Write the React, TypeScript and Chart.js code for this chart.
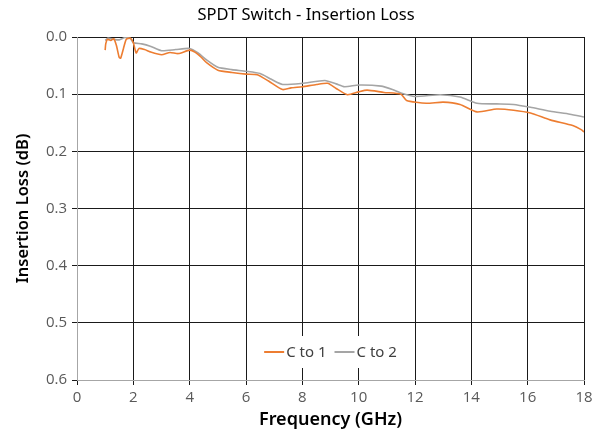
import React, { useEffect, useRef } from "react";
import { Chart, registerables } from "chart.js";

Chart.register(...registerables);

const chartTitle = "SPDT Switch - Insertion Loss";
const xTitle = "Frequency (GHz)";
const yTitle = "Insertion Loss (dB)";
const seriesNames = ["C to 1", "C to 2"];
const seriesColors = ["#ED7D31", "#A5A5A5"];

const freqC1 = [1.0, 1.02, 1.08, 1.2, 1.3, 1.4, 1.5, 1.55, 1.65, 1.75, 1.9, 2.0, 2.1, 2.2, 2.4, 2.6, 3.0, 3.3, 3.6, 4.0, 4.2, 4.4, 4.6, 5.0, 5.5, 6.0, 6.4, 6.8, 7.3, 7.6, 8.0, 8.5, 8.9, 9.2, 9.6, 10.0, 10.3, 10.9, 11.5, 11.7, 12.4, 13.0, 13.6, 14.2, 14.9, 15.5, 16.1, 16.8, 17.6, 17.9, 18.0];
const lossC1 = [0.023, 0.012, 0.004, 0.006, 0.003, 0.015, 0.036, 0.037, 0.02, 0.004, 0.002, 0.01, 0.028, 0.02, 0.022, 0.026, 0.031, 0.027, 0.029, 0.023, 0.027, 0.035, 0.045, 0.058, 0.062, 0.065, 0.066, 0.077, 0.092, 0.089, 0.087, 0.083, 0.081, 0.09, 0.101, 0.096, 0.093, 0.097, 0.1, 0.111, 0.116, 0.114, 0.118, 0.131, 0.126, 0.128, 0.133, 0.145, 0.155, 0.162, 0.166];

const freqC2 = [1.0, 1.1, 1.3, 1.5, 1.7, 1.9, 2.0, 2.3, 2.6, 3.0, 3.5, 4.0, 4.3, 4.6, 5.0, 5.5, 6.0, 6.5, 6.9, 7.3, 8.0, 8.8, 9.2, 9.5, 10.0, 10.8, 11.2, 11.5, 12.0, 12.9, 13.6, 14.2, 14.9, 15.5, 16.1, 16.8, 17.5, 18.0];
const lossC2 = [0.006, 0.002, 0.004, 0.005, 0.001, 0.003, 0.01, 0.012, 0.016, 0.024, 0.022, 0.02, 0.028, 0.04, 0.053, 0.057, 0.06, 0.064, 0.074, 0.083, 0.081, 0.076, 0.082, 0.087, 0.084, 0.086, 0.092, 0.098, 0.104, 0.101, 0.105, 0.116, 0.117, 0.118, 0.123, 0.13, 0.135, 0.14];

const TITLE_FONT = "'Noto Sans', 'Open Sans', sans-serif";
const TICK_FONT = "'Open Sans', 'Noto Sans', sans-serif";

const titlePlugin = {
  id: "centerTitle",
  afterDraw(chart: any) {
    const ctx = chart.ctx;
    ctx.save();
    ctx.font = `16.5px ${TITLE_FONT}`;
    ctx.fillStyle = "#000000";
    ctx.textAlign = "center";
    ctx.textBaseline = "middle";
    ctx.fillText(chartTitle, chart.width / 2, 15);
    ctx.restore();
  },
};

const legendPlugin = {
  id: "innerLegend",
  afterDraw(chart: any) {
    const ctx = chart.ctx;
    const area = chart.chartArea;
    const cx = (area.left + area.right) / 2;
    const cy = area.bottom - 28;
    ctx.save();
    ctx.font = `15px ${TITLE_FONT}`;
    const lineW = 20;
    const gap = 2;
    const itemGap = 8;
    const widths = seriesNames.map((n) => lineW + gap + ctx.measureText(n).width);
    const total = widths.reduce((a, b) => a + b, 0) + itemGap * (seriesNames.length - 1);
    const padX = 12;
    ctx.fillStyle = "#ffffff";
    ctx.fillRect(cx - total / 2 - padX, cy - 16, total + padX * 2, 32);
    let x = cx - total / 2;
    seriesNames.forEach((n, i) => {
      ctx.strokeStyle = seriesColors[i];
      ctx.lineWidth = 2;
      ctx.beginPath();
      ctx.moveTo(x, cy);
      ctx.lineTo(x + lineW, cy);
      ctx.stroke();
      ctx.fillStyle = "#404040";
      ctx.textBaseline = "middle";
      ctx.textAlign = "left";
      ctx.fillText(n, x + lineW + gap, cy + 1);
      x += widths[i] + itemGap;
    });
    ctx.restore();
  },
};

export default function App() {
  const ref = useRef<HTMLCanvasElement>(null);
  useEffect(() => {
    document.body.style.margin = "0";
    const c1 = freqC1.map((f, i) => ({ x: f, y: lossC1[i] }));
    const c2 = freqC2.map((f, i) => ({ x: f, y: lossC2[i] }));
    const chart = new Chart(ref.current!, {
      type: "line",
      data: {
        datasets: [
          { label: seriesNames[0], data: c1, borderColor: seriesColors[0], backgroundColor: seriesColors[0], borderWidth: 1.6, pointRadius: 0, tension: 0.2, order: 1 },
          { label: seriesNames[1], data: c2, borderColor: seriesColors[1], backgroundColor: seriesColors[1], borderWidth: 1.6, pointRadius: 0, tension: 0.2, order: 2 },
        ],
      },
      options: {
        animation: false,
        responsive: false,
        layout: { padding: { left: 0, right: 28, top: 37, bottom: 0 } },
        plugins: {
          legend: { display: false },
          tooltip: { enabled: false },
          title: { display: false },
        },
        scales: {
          x: {
            type: "linear",
            min: 0,
            max: 18,
            ticks: { stepSize: 2, color: "#595959", font: { family: TICK_FONT, size: 15 }, padding: 4, maxRotation: 0 },
            grid: { color: "#1a1a1a", lineWidth: 1, tickLength: 5, drawTicks: true },
            border: { color: "#A6A6A6", width: 1 },
            title: { display: true, text: xTitle, color: "#000000", font: { family: TITLE_FONT, size: 18, weight: "600" }, padding: { top: 0, bottom: 7 } },
            afterFit: (s: any) => { s.height = 58; },
          },
          y: {
            type: "linear",
            reverse: true,
            min: 0,
            max: 0.6,
            ticks: { stepSize: 0.1, color: "#595959", font: { family: TICK_FONT, size: 15 }, padding: 5, callback: (v: any) => Number(v).toFixed(1) },
            grid: { color: "#1a1a1a", lineWidth: 1, tickLength: 5, drawTicks: true },
            border: { color: "#A6A6A6", width: 1 },
            title: { display: true, text: yTitle, color: "#000000", font: { family: TITLE_FONT, size: 16.5, weight: "600" }, padding: { top: 13, bottom: 0 } },
            afterFit: (s: any) => { s.width = 77; },
          },
        },
      },
      plugins: [titlePlugin, legendPlugin],
    });
    return () => chart.destroy();
  }, []);
  return (
    <div style={{ width: 612, height: 438 }}>
      <canvas ref={ref} width={612} height={438} style={{ display: "block" }} />
    </div>
  );
}
